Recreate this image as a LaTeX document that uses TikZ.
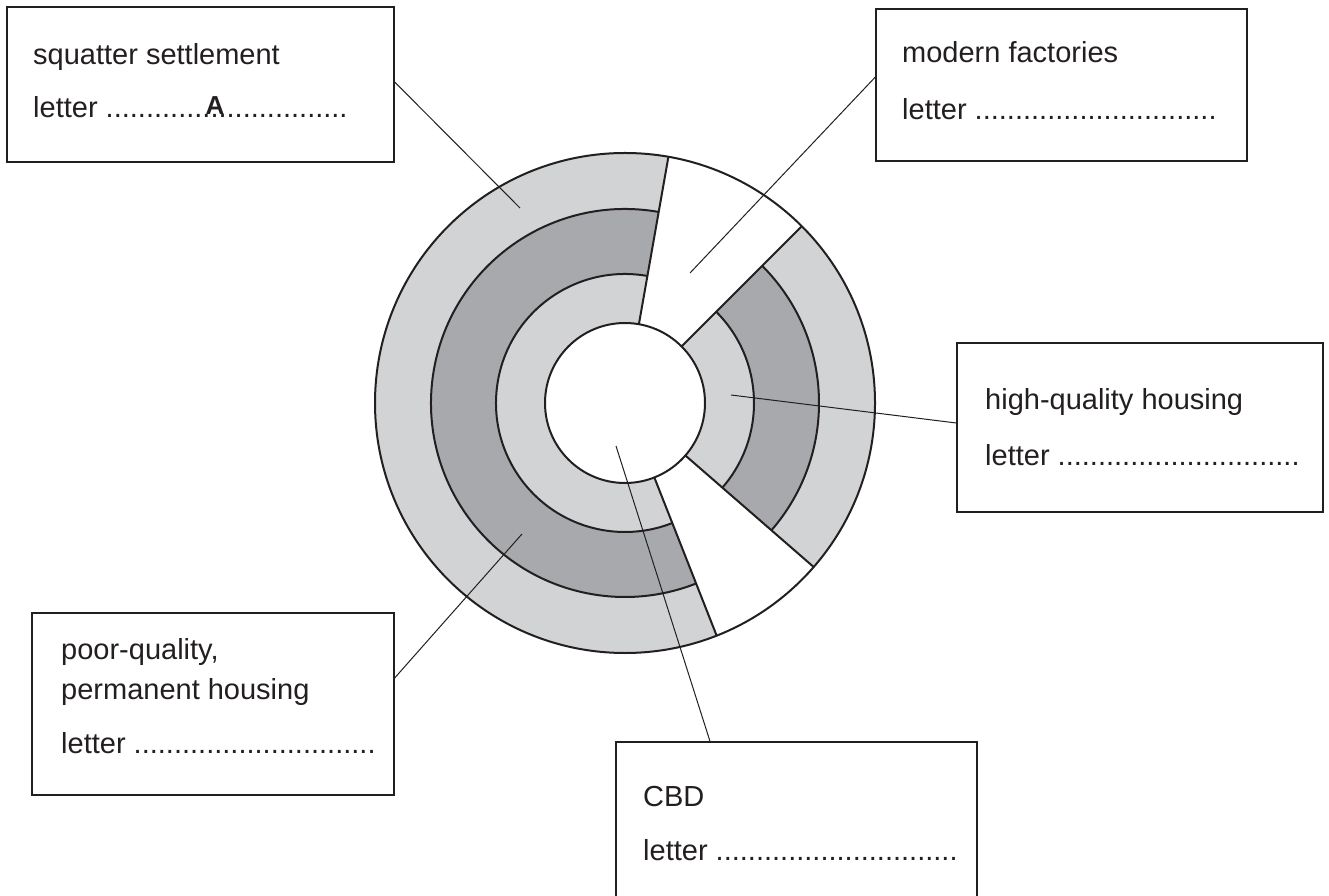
\documentclass[tikz,border=0pt]{standalone}
\usepackage{fontspec}
\setmainfont{Liberation Sans}
\definecolor{lightzone}{HTML}{D1D3D4}
\definecolor{darkzone}{HTML}{A7A9AC}
\definecolor{ink}{HTML}{231F20}
\newcommand\mydots{..............................}
\begin{document}
\begin{tikzpicture}[x=1pt,y=1pt,
  box/.style={draw=ink, line width=1.3pt, fill=none, inner sep=0pt},
  lab/.style={anchor=base west, inner sep=0pt, text=ink, font=\fontsize{29pt}{34pt}\selectfont},
  ringline/.style={draw=ink, line width=2pt},
  leader/.style={draw=ink, line width=1pt}]
\useasboundingbox (0,0) rectangle (1329,895);
\clip (0,0) rectangle (1329,895);
\fill[white] (0,0) rectangle (1329,895);

% ---- zoned city circle ----
\begin{scope}[shift={(625,492)}]
  % left (west) zones
  \fill[lightzone] (0,0) -- (80:250pt) arc[start angle=80, end angle=291.5, radius=250pt] -- cycle;
  \fill[darkzone]  (0,0) -- (80:194pt) arc[start angle=80, end angle=291.5, radius=194pt] -- cycle;
  \fill[lightzone] (0,0) -- (80:129pt) arc[start angle=80, end angle=291.5, radius=129pt] -- cycle;
  % right (east) zones
  \fill[lightzone] (0,0) -- (-41:250pt) arc[start angle=-41, end angle=45, radius=250pt] -- cycle;
  \fill[darkzone]  (0,0) -- (-41:194pt) arc[start angle=-41, end angle=45, radius=194pt] -- cycle;
  \fill[lightzone] (0,0) -- (-41:129pt) arc[start angle=-41, end angle=45, radius=129pt] -- cycle;
  % zone boundaries
  \draw[ringline] (80:194pt) arc[start angle=80, end angle=291.5, radius=194pt];
  \draw[ringline] (80:129pt) arc[start angle=80, end angle=291.5, radius=129pt];
  \draw[ringline] (-41:194pt) arc[start angle=-41, end angle=45, radius=194pt];
  \draw[ringline] (-41:129pt) arc[start angle=-41, end angle=45, radius=129pt];
  \draw[ringline] (80:80pt) -- (80:250pt);
  \draw[ringline] (291.5:80pt) -- (291.5:250pt);
  \draw[ringline] (45:80pt) -- (45:250pt);
  \draw[ringline] (-41:80pt) -- (-41:250pt);
  \draw[ringline] (0,0) circle[radius=250pt];
  \draw[ringline, fill=white] (0,0) circle[radius=80pt];
\end{scope}

% ---- label boxes ----
\node[box, minimum width=387pt, minimum height=155pt] (sq)  at (200.5,810.5) {};
\node[box, minimum width=371pt, minimum height=152pt] (mf)  at (1061.5,810) {};
\node[box, minimum width=366pt, minimum height=169pt] (hq)  at (1140,467.5) {};
\node[box, minimum width=362pt, minimum height=182pt] (pq)  at (213,191) {};
\node[box, minimum width=361pt, minimum height=163pt] (cbd) at (796.5,71.5) {};

% ---- texts ----
\node[lab] (sqt) at (33,830) {squatter settlement};
\node[lab] (sql) at (33,777) {letter \mydots};
\node[lab, anchor=base, font=\fontsize{26pt}{30pt}\selectfont\bfseries] (sqa) at (215,780) {A};
\node[lab] (mft) at (902,832) {modern factories};
\node[lab] (mfl) at (902,775) {letter \mydots};
\node[lab] (hqt) at (985,485) {high-quality housing};
\node[lab] (hql) at (985,429) {letter \mydots};
\node[lab] (pqt1) at (61,236) {poor-quality,};
\node[lab] (pqt2) at (61,196) {permanent housing};
\node[lab] (pql) at (61,142) {letter \mydots};
\node[lab] (cbdt) at (643,89) {CBD};
\node[lab] (cbdl) at (643,35) {letter \mydots};

% ---- leader lines ----
\coordinate (psq)  at (520,687);
\coordinate (pmf)  at (690,622);
\coordinate (phq)  at (731,500);
\coordinate (ppq)  at (522,361);
\coordinate (pcbd) at (616,449);
\draw[leader] (sq.east |- 0,813) -- (psq);
\draw[leader] (mf.west |- 0,818) -- (pmf);
\draw[leader] (hq.west |- 0,472) -- (phq);
\draw[leader] (pq.east |- 0,217) -- (ppq);
\draw[leader] (cbd.north -| 710,0) -- (pcbd);
\end{tikzpicture}
\end{document}
